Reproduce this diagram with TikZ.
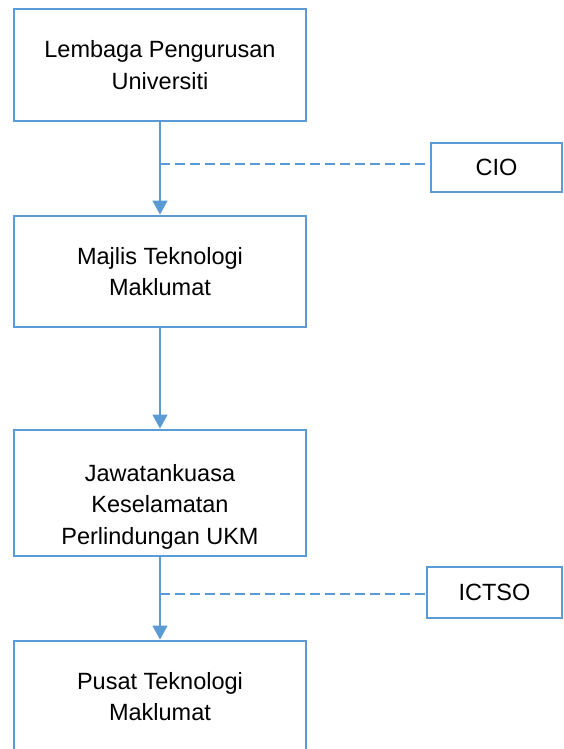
\documentclass[tikz,border=0pt]{standalone}
\usepackage{fontspec}
\setmainfont{Liberation Sans}
\usetikzlibrary{arrows.meta}
\definecolor{orgblue}{HTML}{5B9BD5}
\tikzset{>/.tip={Triangle[width=15pt,length=14pt]},
  unit/.style={draw=orgblue, line width=2.8pt, align=center, font=\fontsize{23.5}{31.5}\selectfont,
    inner sep=0pt, minimum width=292pt},
  link/.style={draw=orgblue, line width=1.3pt},
  dotlink/.style={draw=orgblue, line width=1.1pt, dash pattern=on 10pt off 5pt}}

\begin{document}
\begin{tikzpicture}[x=1pt, y=-1pt]
\useasboundingbox (0,0) rectangle (563,749);
\node[unit, minimum height=112pt] (lpu) at (160,65) {Lembaga Pengurusan\\Universiti};
\node[unit, minimum height=111pt] (mtm) at (160,271.5) {Majlis Teknologi\\Maklumat};
\node[unit, minimum height=126pt] (jkp) at (160,493) {\mbox{}\\[13pt]Jawatankuasa\\Keselamatan\\Perlindungan UKM};
\node[unit, minimum height=111pt] (ptm) at (160,696.5) {Pusat Teknologi\\Maklumat};
\node[unit, minimum width=131pt, minimum height=49pt] (cio) at (496.5,167.5) {CIO};
\node[unit, minimum width=135pt, minimum height=51pt] (ictso) at (494.5,592.5) {ICTSO};
\coordinate (c1) at (160,164);
\coordinate (c2) at (160,594);


\draw[link,->] (lpu) to (mtm);
\draw[link,->] (mtm) to (jkp);
\draw[link,->] (jkp) to (ptm);
\draw[dotlink] (c1) to (c1 -| cio.west);
\draw[dotlink] (c2) to (c2 -| ictso.west);
\end{tikzpicture}
\end{document}
